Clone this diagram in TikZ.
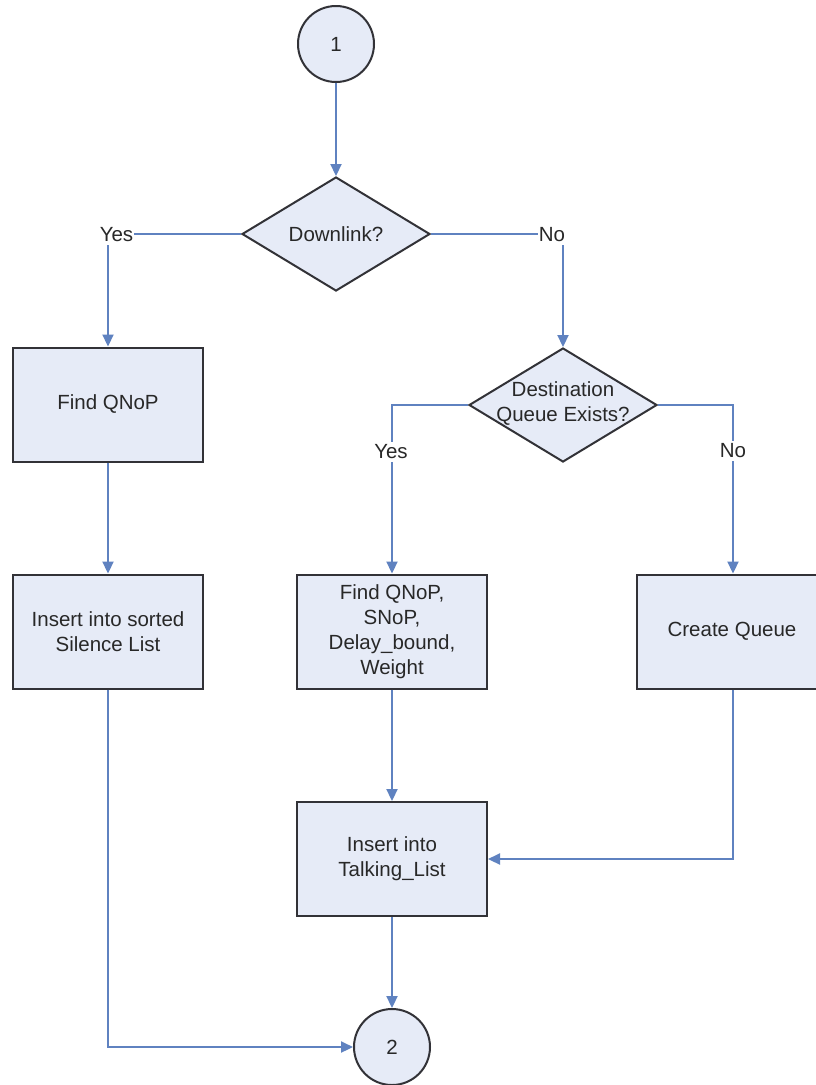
\documentclass[tikz,border=0pt]{standalone}
\usepackage{fontspec}
\setmainfont{Liberation Sans}
\usetikzlibrary{shapes.geometric,arrows.meta}

\definecolor{boxfill}{RGB}{230,235,247}
\definecolor{boxline}{RGB}{50,50,55}
\definecolor{flow}{RGB}{95,130,192}
\definecolor{ink}{RGB}{40,40,40}

\tikzset{
  base/.style={draw=boxline, line width=2pt, fill=boxfill, text=ink,
    font=\fontsize{20.5}{25}\selectfont, align=center, inner sep=0pt},
  procbox/.style={base, rectangle, minimum width=190pt, minimum height=114pt},
  connector/.style={base, circle, minimum size=76pt},
  decision/.style={base, diamond, minimum width=188pt, minimum height=114pt},
  dtext/.style={text=ink, font=\fontsize{20.5}{25}\selectfont, align=center, inner sep=0pt},
  flowline/.style={draw=flow, line width=2.2pt, -{Triangle[length=12pt,width=11pt]}},
  branch/.style={fill=white, text=ink, font=\fontsize{20.5}{25}\selectfont,
    inner xsep=1pt, inner ysep=3pt}
}

\begin{document}
\begin{tikzpicture}[x=1pt, y=-1pt]
  \useasboundingbox (0,0) rectangle (816,1085);
  \fill[white] (0,0) rectangle (816,1085);

  % terminals
  \node[connector] (start) at (336,44) {1};
  \node[connector] (finish) at (392,1047) {2};

  % decisions
  \node[decision] (down) at (336,234) {};
  \node[dtext] (downtxt) at (down) {Downlink?};
  \node[decision] (dest) at (563,405) {};
  \node[dtext] (desttxt) at (563,404) {Destination\\Queue Exists?};

  % processes
  \node[procbox] (findq) at (108,404.5) {Find QNoP};
  \node[procbox] (silence) at (108,631.5) {Insert into sorted\\Silence List};
  \node[procbox] (findall) at (392,631.5) {Find QNoP,\\SNoP,\\Delay\_bound,\\Weight};
  \node[procbox] (create) at (732,631.5) {Create Queue};
  \node[procbox] (talking) at (392,859) {Insert into\\Talking\_List};

  % bends
  \coordinate (yesA) at (108,234);
  \coordinate (noA) at (563,234);
  \coordinate (yesB) at (392,405);
  \coordinate (noB) at (733,405);
  \coordinate (silBend) at (108,1047);
  \coordinate (creBend) at (733,859);

  % connectors
  \draw[flowline] (start) -- (down);
  \draw[flowline] (down.west) -- (yesA) -- (findq.north);
  \draw[flowline] (down.east) -- (noA) -- (dest.north);
  \draw[flowline] (dest.west) -- (yesB) -- (findall.north);
  \draw[flowline] (dest.east) -- (noB) -- (create.north -| noB);
  \draw[flowline] (findq) -- (silence);
  \draw[flowline] (findall) -- (talking);
  \draw[flowline] (talking) -- (finish);
  \draw[flowline] (silence.south) -- (silBend) -- (finish.west);
  \draw[flowline] (create.south -| creBend) -- (creBend) -- (talking.east);

  % branch labels
  \node[branch] (lyesA) at (116.5,234.5) {Yes};
  \node[branch] (lnoA) at (552,234.5) {No};
  \node[branch] (lyesB) at (391,452) {Yes};
  \node[branch] (lnoB) at (733,451) {No};
\end{tikzpicture}
\end{document}
